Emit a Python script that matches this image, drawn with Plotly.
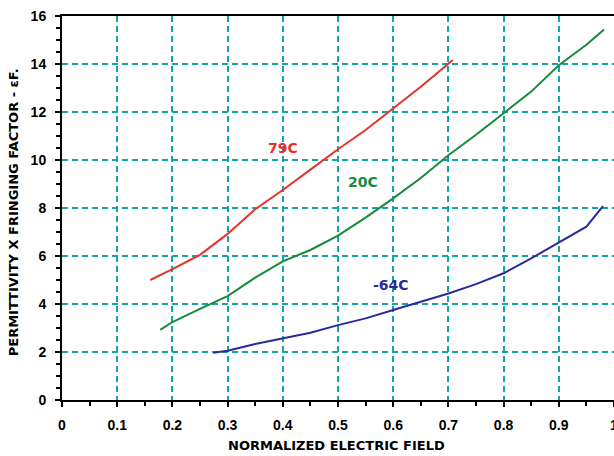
import plotly.graph_objects as go

# 79C series
x_79 = [0.16, 0.2, 0.25, 0.3, 0.35, 0.4, 0.45, 0.5, 0.55, 0.6, 0.65, 0.708]
y_79 = [5.0, 5.45, 6.05, 6.92, 7.95, 8.75, 9.6, 10.45, 11.25, 12.15, 13.05, 14.17]

# 20C series
x_20 = [0.178, 0.2, 0.25, 0.3, 0.35, 0.4, 0.45, 0.5, 0.55, 0.6, 0.65, 0.7, 0.75, 0.8, 0.85, 0.9, 0.95, 0.982]
y_20 = [2.92, 3.25, 3.8, 4.33, 5.1, 5.78, 6.25, 6.85, 7.6, 8.4, 9.25, 10.2, 11.05, 11.95, 12.85, 13.95, 14.8, 15.44]

# -64C series
x_m64 = [0.274, 0.3, 0.35, 0.4, 0.45, 0.5, 0.55, 0.6, 0.65, 0.7, 0.75, 0.8, 0.85, 0.9, 0.95, 0.98]
y_m64 = [1.97, 2.05, 2.33, 2.57, 2.8, 3.12, 3.4, 3.75, 4.1, 4.44, 4.83, 5.28, 5.9, 6.55, 7.22, 8.08]

series_names = ["79C", "20C", "-64C"]
label_x = [0.40, 0.546, 0.596]
label_y = [10.5, 9.07, 4.78]

x_ticks = [0, 0.1, 0.2, 0.3, 0.4, 0.5, 0.6, 0.7, 0.8, 0.9, 1]
x_ticklabels = ["0", "0.1", "0.2", "0.3", "0.4", "0.5", "0.6", "0.7", "0.8", "0.9", "1"]
y_ticks = [0, 2, 4, 6, 8, 10, 12, 14, 16]

x_title = "NORMALIZED ELECTRIC FIELD"
y_title = "PERMITTIVITY X FRINGING FACTOR - εF."

colors = ["#e8312b", "#178a3c", "#2b2a9c"]
FONT = "Liberation Sans, Arial, sans-serif"
WIDE = "DejaVu Sans, Verdana, sans-serif"

fig = go.Figure()
for xs, ys, c, n in zip([x_79, x_20, x_m64], [y_79, y_20, y_m64], colors, series_names):
    fig.add_trace(go.Scatter(x=xs, y=ys, mode="lines", name=n,
                             line=dict(color=c, width=2), showlegend=False))

for n, lx, ly, c in zip(series_names, label_x, label_y, colors):
    fig.add_annotation(x=lx, y=ly, text="<b>" + n + "</b>", showarrow=False,
                       font=dict(family=WIDE, size=14, color=c))

# axis titles placed as annotations
fig.add_annotation(xref="paper", yref="paper", x=0.498, y=-0.1185, text="<b>" + x_title + "</b>",
                   showarrow=False, xanchor="center", yanchor="middle",
                   font=dict(family=WIDE, size=13, color="black"))
fig.add_annotation(xref="paper", yref="paper", x=-0.088, y=0.49, text="<b>" + y_title + "</b>",
                   showarrow=False, xanchor="center", yanchor="middle", textangle=-90,
                   font=dict(family=WIDE, size=13, color="black"))

grid_color = "#17a4a8"
fig.update_xaxes(
    range=[0, 1], tickvals=x_ticks, ticktext=x_ticklabels, automargin=False,
    ticklabeloverflow="allow",
    showgrid=True, gridcolor=grid_color, gridwidth=2, griddash="6px,4px",
    showline=True, linecolor="black", linewidth=2, mirror=True,
    ticks="outside", ticklen=5, tickwidth=2, tickcolor="black",
    minor=dict(dtick=0.05, ticks="outside", ticklen=4, tickwidth=2, tickcolor="black", showgrid=False),
    tickfont=dict(family=FONT, size=14, color="black", weight="bold"),
    ticklabelstandoff=6,
    zeroline=False,
)
fig.update_yaxes(
    range=[0, 16], tickvals=y_ticks, automargin=False,
    showgrid=True, gridcolor=grid_color, gridwidth=2, griddash="6px,4px",
    showline=True, linecolor="black", linewidth=2,
    ticks="outside", ticklen=5, tickwidth=2, tickcolor="black",
    minor=dict(dtick=0.5, ticks="outside", ticklen=4, tickwidth=2, tickcolor="black", showgrid=False),
    tickfont=dict(family=FONT, size=14, color="black", weight="bold"),
    ticklabelstandoff=6,
    zeroline=False,
)
fig.update_layout(
    width=614, height=456,
    margin=dict(l=62, r=0, t=16, b=56),
    plot_bgcolor="white", paper_bgcolor="white",
    font=dict(family=FONT),
)
fig.write_html("out.html", config={"displayModeBar": False},
               post_script="document.body.style.margin='0px';document.body.style.overflow='hidden';")
